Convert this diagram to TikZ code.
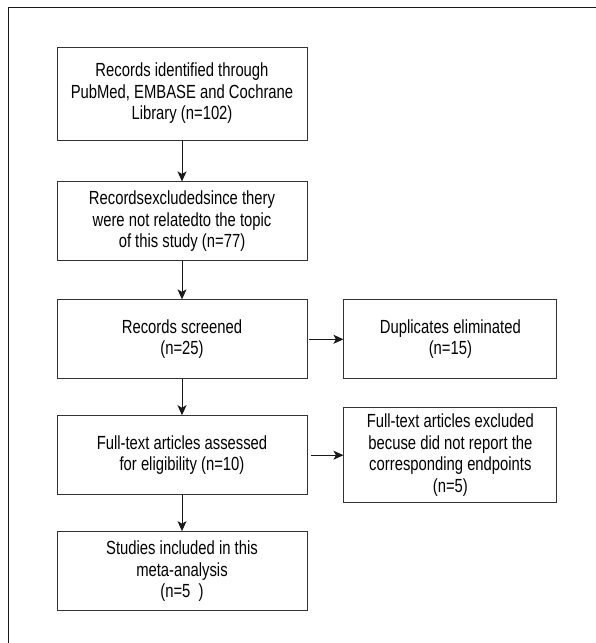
\documentclass[tikz,border=0pt]{standalone}
\usepackage{fontspec}
\setmainfont{Liberation Sans}[FakeStretch=0.78]
\usetikzlibrary{positioning,arrows.meta}
\definecolor{myline}{gray}{.2}
\definecolor{myframe}{gray}{.1}
\newcommand{\widthleft}{250pt}
\newcommand{\widthright}{213pt}
\tikzset{
    common/.style={draw=myline, line width=0.9pt, rectangle, align=center, inner sep=0pt, font=\fontsize{19}{21.5}\selectfont},
    stage/.style={common, minimum width=\widthleft, minimum height=79pt},
    sidebox/.style={common, minimum width=\widthright, minimum height=79pt},
    flow/.style={draw=myframe, line width=1pt, -{Stealth[length=10pt,width=9pt,inset=2.5pt]}}
}
\begin{document}
\begin{tikzpicture}[x=1pt, y=1pt]
        \useasboundingbox (0,0) rectangle (596,-643);
        % outer frame, cut off at right and bottom
        \draw[myframe, line width=0.9pt] (8,-643) -- (8,-7) -- (596,-7);

        \node[stage, minimum height=93pt] (found) at (182,-93.5) {Records identified through\\PubMed, EMBASE and Cochrane\\Library (n=102)};
        \node[stage, below=41pt of found] (excl) {Recordsexcludedsince thery\\were not relatedto the topic\\of this study (n=77)};
        \node[stage, below=38pt of excl] (screen) {Records screened\\(n=25)};
        \node[stage, below=36pt of screen] (full) {Full-text articles assessed\\for eligibility (n=10)};
        \node[stage, below=36pt of full] (incl) {Studies included in this\\meta-analysis\\(n=5~~)};

        \node[sidebox, right=36pt of screen] (dup) {Duplicates eliminated\\(n=15)};
        \node[sidebox, right=36pt of full, minimum height=95pt] (fullexcl) {Full-text articles excluded\\becuse did not report the\\corresponding endpoints\\(n=5)};

        \draw[flow] (found) -- (excl);
        \draw[flow] (excl) -- (screen);
        \draw[flow] (screen) -- (full);
        \draw[flow] (full) -- (incl);
        \draw[flow, shorten <=2pt] (screen) -- (dup);
        \draw[flow, shorten <=4pt] (full) -- (fullexcl);
    \end{tikzpicture}
\end{document}
